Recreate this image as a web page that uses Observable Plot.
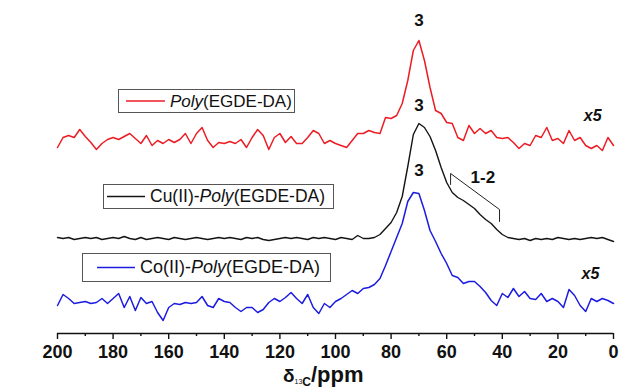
<!DOCTYPE html>
<html><head><meta charset="utf-8">
<script src="https://cdn.jsdelivr.net/npm/d3@7"></script>
<script src="https://cdn.jsdelivr.net/npm/@observablehq/plot@0.6"></script>
<style>html,body{margin:0;padding:0;background:#fff}</style>
</head><body><div id="chart"></div>
<script>
// chemical shift grid (ppm)
const ppm = [200,198,196,194,192,190,188,186,184,182,
  180,178,176,174,172,170,168,166,164,162,
  160,158,156,154,152,150,148,146,144,142,
  140,138,136,134,132,130,128,126,124,122,
  120,118,116,114,112,110,108,106,104,102,
  100,98,96,94,92,90,88,86,84,82,
  80,78,76,74,72,70,68,66,64,62,
  60,58,56,54,52,50,48,46,44,42,
  40,38,36,34,32,30,28,26,24,22,
  20,18,16,14,12,10,8,6,4,2,
  0];
// Poly(EGDE-DA), displayed x5 (arbitrary intensity)
const polyRed = [-7,3,5,3,11,4,-2,-9,-3,1,
  3,1,4,7,2,-3,5,-5,0,-3,
  1,-2,1,7,-3,7,13,0,-7,-2,
  -3,-1,-3,1,-7,3,11,5,-9,3,
  7,-2,4,-3,-3,3,10,7,-3,0,
  -3,-5,-7,0,7,7,10,8,7,23,
  22,25,37,60,90,100,80,53,30,27,
  18,17,3,0,15,7,12,7,10,3,
  2,3,-2,-8,-3,-5,5,3,13,0,
  2,-3,10,0,3,-5,-8,-5,-10,3,
  -5];
// Cu(II)-Poly(EGDE-DA)
const cuBlack = [1,0,1,-1,0,1,0,1,-1,0,
  1,0,2,0,-1,1,-1,0,1,0,
  -1,1,0,-1,0,1,0,-1,0,1,
  0,1,0,-1,1,0,1,-1,-2,-1,
  0,1,0,1,0,-1,1,0,1,0,
  -1,1,0,-1,3,0,0,1,4,10,
  16,26,42,72,104,115,111,102,88,71,
  56,46,41,38,34,30,24,19,15,9,
  4,1,0,-1,0,-2,0,-1,0,-1,
  1,0,-1,0,-1,0,1,0,1,-1,
  -3];
// Co(II)-Poly(EGDE-DA), displayed x5
const coBlue = [-2,9,5,0,1,2,0,1,5,0,
  5,10,-4,7,-7,6,0,2,-9,-17,
  -4,0,-1,1,0,1,7,-2,-4,5,
  2,1,-4,-8,-4,-4,-9,-6,1,5,
  2,6,11,5,0,9,-4,-10,0,-4,
  2,5,9,13,10,15,16,19,25,38,
  52,66,80,102,111,110,93,73,62,50,
  40,28,26,20,22,22,17,11,3,-2,
  10,6,15,7,12,5,4,10,2,5,
  2,-4,14,8,-2,-8,5,2,5,3,
  0];

const seriesNames = ["Poly(EGDE-DA)", "Cu(II)-Poly(EGDE-DA)", "Co(II)-Poly(EGDE-DA)"];
const seriesColors = ["#ec1c24", "#141414", "#1c1ce0"];
const seriesOffsets = [193, 95, 30];
const majorTicks = [200,180,160,140,120,100,80,60,40,20,0];
const minorTicks = [190,170,150,130,110,90,70,50,30,10];

const peakText = ["3", "3", "3", "1-2"];
const peakPpm = [70, 70, 70, 47];
const peakLevel = [313, 228, 163, 156];
const scaleText = ["x5", "x5"];
const scalePpm = [7.5, 8.3];
const scaleLevel = [218, 60];
const bracketPpm = [58.6, 58.6, 41, 41];
const bracketLevel = [149, 160, 124, 112];

const allSeries = [polyRed, cuBlack, coBlue];
const rows = allSeries.map((vals, k) => ppm.map((p, i) => ({ppm: p, v: seriesOffsets[k] + vals[i]})));
const peaks = peakText.map((t, i) => ({t, x: peakPpm[i], y: peakLevel[i]}));
const scales = scaleText.map((t, i) => ({t, x: scalePpm[i], y: scaleLevel[i]}));
const bracket = bracketPpm.map((x, i) => ({x, y: bracketLevel[i]}));

const font = "'Liberation Sans', Arial, Helvetica, sans-serif";

const plot = Plot.plot({
  width: 621, height: 388,
  marginLeft: 57, marginRight: 8, marginTop: 0, marginBottom: 55,
  x: {domain: [200, 0]},
  y: {domain: [0, 333], axis: null},
  style: {fontFamily: font, background: "#fff", color: "#111"},
  marks: [
    ...rows.map((r, k) => Plot.line(r, {x: "ppm", y: "v", stroke: seriesColors[k], strokeWidth: k === 1 ? 1.4 : 1.5, curve: "linear"})),
    Plot.ruleY([0], {stroke: "#111", strokeWidth: 1.5}),
    Plot.axisX({ticks: majorTicks, tickSize: 6, tickPadding: 6, fontSize: 18, fontWeight: "bold", label: null, strokeWidth: 1.4, tickFormat: d => String(d)}),
    Plot.axisX({ticks: minorTicks, tickSize: 3, text: null, label: null, strokeWidth: 1.4}),
    Plot.text(peaks, {x: "x", y: "y", text: "t", fontSize: 17, fontWeight: "bold", fill: "#111"}),
    Plot.text(scales, {x: "x", y: "y", text: "t", fontSize: 16, fontWeight: "bold", fontStyle: "italic", fill: "#111"}),
    Plot.line(bracket, {x: "x", y: "y", stroke: "#222", strokeWidth: 1})
  ]
});

// legend boxes inside the plot
const svg = d3.select(plot);
const legendBoxes = [
  {x: 118, y: 89, w: 176, h: 23, lx1: 126, lx2: 165, tx: 170, fs: 17},
  {x: 103, y: 184, w: 230, h: 24, lx1: 107, lx2: 145, tx: 150, fs: 17.5},
  {x: 82, y: 253, w: 248, h: 28, lx1: 97, lx2: 135, tx: 140, fs: 18}
];
legendBoxes.forEach((b, k) => {
  const g = svg.append("g");
  g.append("rect").attr("x", b.x + 0.5).attr("y", b.y + 0.5).attr("width", b.w).attr("height", b.h)
    .attr("fill", "#fff").attr("stroke", "#555").attr("stroke-width", 1);
  g.append("line").attr("x1", b.lx1).attr("x2", b.lx2).attr("y1", b.y + b.h / 2 + 0.5).attr("y2", b.y + b.h / 2 + 0.5)
    .attr("stroke", seriesColors[k]).attr("stroke-width", 1.5);
  const name = seriesNames[k];
  const idx = name.indexOf("Poly");
  const t = g.append("text").attr("x", b.tx).attr("y", b.y + b.h / 2 + b.fs * 0.36)
    .attr("text-anchor", "start")
    .attr("font-family", font).attr("font-size", b.fs).attr("fill", "#111");
  if (idx > 0) t.append("tspan").text(name.slice(0, idx));
  t.append("tspan").attr("font-style", "italic").text("Poly");
  t.append("tspan").text(name.slice(idx + 4));
});

// axis title δ13C/ppm
const title = svg.append("text").attr("x", 283).attr("y", 382).attr("text-anchor", "start")
  .attr("font-family", font).attr("fill", "#111");
title.append("tspan").attr("font-size", 19).attr("font-weight", "bold").text("δ");
title.append("tspan").attr("font-size", 7).attr("dy", 2).text("13");
title.append("tspan").attr("font-size", 12).attr("font-weight", "bold").attr("dy", 2).text("C");
title.append("tspan").attr("font-size", 22).attr("font-weight", "bold").attr("dy", -4).text("/ppm");

document.getElementById("chart").appendChild(plot);
</script>
</body></html>
